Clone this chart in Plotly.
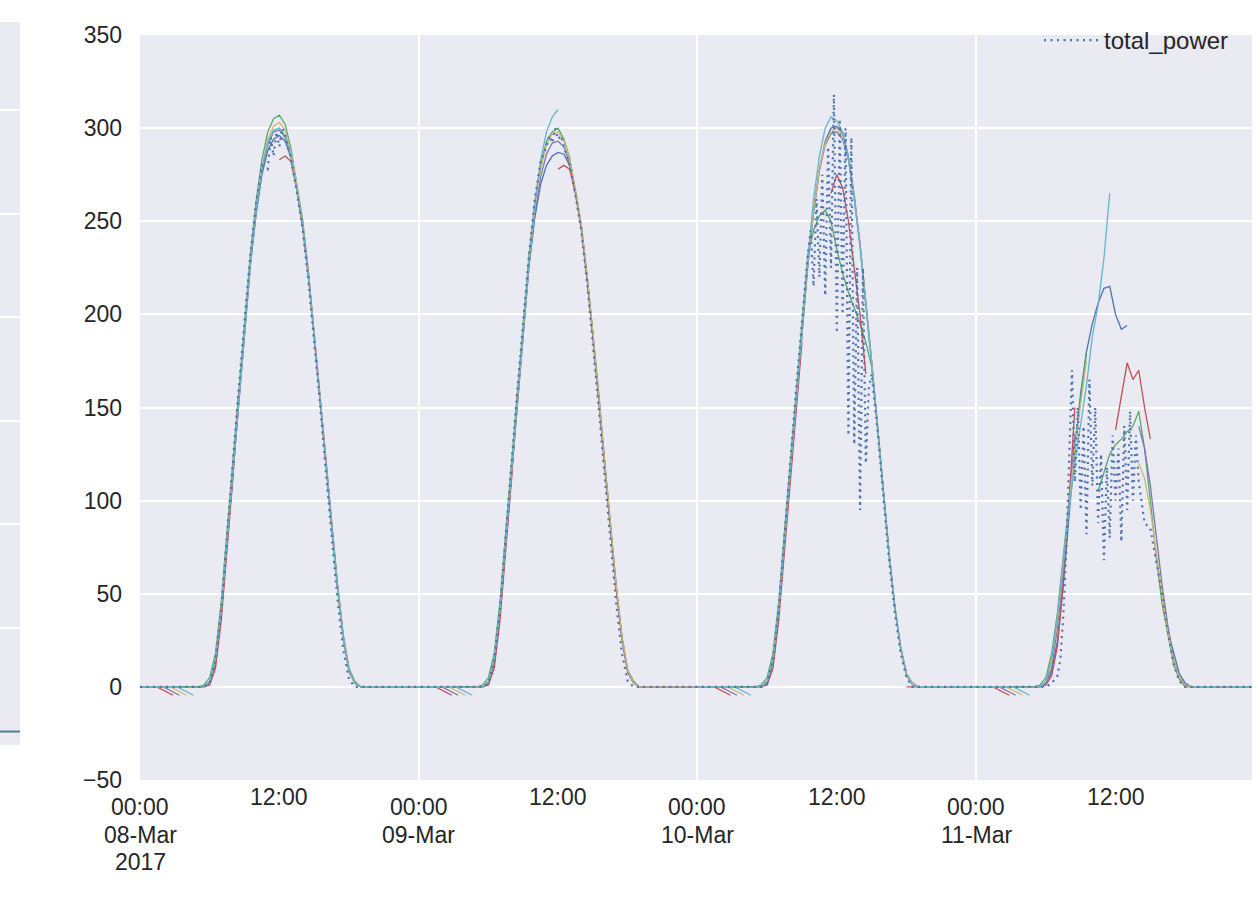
import pandas as pd
import plotly.graph_objects as go

# ---------------- data ----------------
DAYS = ["2017-03-08", "2017-03-09", "2017-03-10", "2017-03-11"]
X_START = "2017-03-08 00:00"
X_END = "2017-03-11 23:45"
DAY_TIME_LABEL = "00:00"
DAY_DATE_LABELS = ["08-Mar", "09-Mar", "10-Mar", "11-Mar"]
YEAR_LABEL = "2017"
NOON_LABEL = "12:00"
Y_TICKS = [-50, 0, 50, 100, 150, 200, 250, 300, 350]

# daylight sampling grid (hours of the day)
HOURS = [5.0, 5.5, 6.0, 6.5, 7.0, 7.5, 8.0, 8.5, 9.0, 9.5, 10.0, 10.5, 11.0, 11.5, 12.0,
         12.5, 13.0, 13.5, 14.0, 14.5, 15.0, 15.5, 16.0, 16.5, 17.0, 17.5, 18.0, 18.5, 19.0, 19.5]
N = None

blue_d1 = [0, 0, 2, 13, 40, 78, 116, 153, 190, 226, 254, 275, 288, 294, 296, 293, 284, 268, 248, 221, 189, 157, 121, 87, 54, 27, 9, 2, 0, 0]
blue_d2 = [0, 0, 2, 13, 40, 78, 116, 153, 190, 226, 252, 270, 280, 285, 287, 286, 280, 265, 246, 219, 188, 156, 120, 86, 53, 26, 8, 2, 0, 0]
blue_d3 = [0, 0, 2, 13, 40, 78, 116, 153, 190, 226, 255, 278, 293, 300, 301, 297, 285, 264, 238, 208, 175, 141, 106, 72, 43, 21, 7, 2, 0, 0]
blue_d4 = [0, 0, 2, 8, 25, 55, 92, 128, 158, 180, 195, 206, 214, 215, 200, 192, 194, N, N, N, N, N, N, 30, 18, 7, 2, 0, 0, 0]

green_d1 = [0, 1, 5, 18, 46, 84, 122, 159, 196, 232, 261, 283, 298, 305, 307, 302, 289, 271, 251, 223, 191, 159, 123, 89, 56, 28, 10, 3, 0, 0]
green_d2 = [0, 1, 5, 18, 46, 84, 122, 159, 196, 232, 260, 280, 293, 298, 300, 294, 284, 267, 248, 221, 190, 158, 122, 88, 55, 27, 9, 3, 0, 0]
green_d3 = [0, 1, 5, 18, 46, 84, 122, 159, 196, 232, 245, 253, 256, 250, 235, 222, 212, 204, 195, 185, 172, 140, 106, 72, 43, 21, 7, 2, 0, 0]
green_d4 = [0, 1, 5, 18, 40, 70, 100, 130, 155, 180, N, 105, 115, 125, 130, 133, 137, 140, 148, 128, 100, 70, 45, 28, 12, 4, 0, 0, 0, 0]

red_d1 = [0, 0, 1, 10, 36, 74, 112, 158, N, N, N, N, N, N, 283, 285, 282, 267, 247, 220, 188, 156, 120, 86, 53, 26, 8, 2, 0, 0]
red_d2 = [0, 0, 1, 10, 36, 74, 112, 158, N, N, N, N, N, N, 278, 280, 278, 265, 246, 219, 188, 156, 120, 86, 53, 26, 8, 2, 0, 0]
red_d3 = [0, 0, 1, 10, 36, 74, 112, 150, 185, N, N, N, N, 265, 275, 268, 250, 225, 200, 168, N, N, N, N, N, N, 0, 0, 0, 0]
red_d4 = [0, 0, 1, 6, 22, 55, 100, 150, N, N, N, N, N, N, 138, 155, 174, 165, 170, 150, 133, N, N, N, N, 5, 1, 0, 0, 0]

purple_d1 = [0, 0, 2, 14, 41, 79, 117, 154, 191, 227, 255, 277, 291, 298, 299, 295, 285, 268, 249, 222, 190, 158, 122, 88, 55, 27, 9, 2, 0, 0]
purple_d2 = [0, 0, 2, 14, 41, 79, 117, 154, 191, 227, 254, 274, 286, 292, 293, 290, 281, 266, 247, 220, 189, 157, 121, 87, 54, 26, 8, 2, 0, 0]
purple_d3 = [0, 0, 2, 14, 41, 79, 117, 154, 191, 227, 255, 277, 291, 297, 298, 294, 283, 262, 237, 207, 174, 140, 105, 71, 42, 21, 7, 2, 0, 0]
purple_d4 = [0, 0, 2, 10, 32, 62, 98, 135, N, N, N, N, N, N, N, N, N, N, 140, 128, 108, 80, 55, 33, 15, 5, 1, 0, 0, 0]

yellow_d1 = [0, 0, 3, 15, 42, 80, 118, 155, 192, 228, 257, 279, 294, 301, 303, 299, 287, 270, 250, 222, 190, 158, 122, 88, 55, 27, 9, 2, 0, 0]
yellow_d2 = [0, 0, 3, 15, 42, 80, 118, 155, 192, 228, 257, 278, 291, 297, 298, 293, 283, 267, 248, 221, 190, 158, 122, 88, 55, 27, 9, 2, 0, 0]
yellow_d3 = [0, 0, 3, 15, 42, 80, 118, 155, 192, 228, 256, 278, 292, 298, 300, 296, 284, 263, 237, 207, 174, 140, 105, 71, 42, 21, 7, 2, 0, 0]
yellow_d4 = [0, 0, 3, 14, 36, 66, 98, 128, 152, 175, N, N, N, N, N, N, N, N, 120, 112, 95, 72, 50, 30, 14, 5, 1, 0, 0, 0]

cyan_d1 = [0, 0, 3, 15, 42, 80, 118, 155, 192, 228, 256, 278, 292, 299, 300, 296, 285, 268, 249, 221, 189, 157, 121, 87, 54, 27, 9, 2, 0, 0]
cyan_d2 = [0, 0, 3, 15, 42, 80, 118, 155, 193, 230, 260, 283, 298, 306, 310, N, N, N, N, N, N, N, N, N, N, N, N, N, N, N]
cyan_d3 = [0, 0, 3, 15, 42, 80, 118, 155, 193, 230, 262, 285, 300, 306, 304, 298, 284, 262, 236, 206, 173, 139, 104, 71, 42, 20, 6, 1, 0, 0]
cyan_d4 = [0, 0, 3, 14, 38, 68, 96, 120, 142, 162, 188, 205, 230, 265, N, N, N, N, N, N, N, N, N, N, N, N, N, 0, 0, 0]

# small pre-dawn dips (start hour of each dip), depth and length
DIP_START = {"red": 1.45, "purple": 2.0, "yellow": 2.6, "cyan": 3.2}
DIP_DEPTH = -4.5
DIP_LEN = 1.4

# total_power (dotted) with its own sampling hours per day
tp_h1 = [5.0, 5.5, 6.0, 6.5, 7.0, 7.5, 8.0, 8.5, 9.0, 9.5, 10.0, 10.5, 11.0, 11.25, 11.5, 11.75, 12.0, 12.25,
         12.5, 13.0, 13.5, 14.0, 14.5, 15.0, 15.5, 16.0, 16.5, 17.0, 17.5, 18.0, 18.5, 19.0]
tp_v1 = [0, 0, 2, 14, 42, 82, 122, 160, 196, 232, 260, 280, 278, 295, 285, 298, 290, 300,
         296, 284, 266, 246, 218, 186, 152, 116, 80, 47, 20, 4, 0, 0]
tp_h2 = tp_h1
tp_v2 = [0, 0, 2, 14, 42, 82, 122, 160, 196, 232, 262, 282, 290, 296, 292, 300, 294, 296,
         290, 280, 264, 245, 217, 185, 150, 114, 78, 45, 18, 3, 0, 0]
tp_h3 = [5.0, 5.5, 6.0, 6.5, 7.0, 7.5, 8.0, 8.5, 9.0, 9.5, 9.75, 10.0, 10.25, 10.5, 10.75, 11.0, 11.25,
         11.5, 11.75, 12.0, 12.25, 12.5, 12.75, 13.0, 13.25, 13.5, 13.75, 14.0, 14.25, 14.5, 14.75,
         15.0, 15.5, 16.0, 16.5, 17.0, 17.5, 18.0, 18.5, 19.0]
tp_v3 = [0, 0, 2, 14, 42, 82, 122, 160, 196, 232, 245, 215, 262, 220, 275, 210, 290,
         225, 318, 190, 305, 200, 300, 135, 295, 130, 225, 95, 225, 120, 160,
         168, 138, 102, 68, 40, 18, 5, 0, 0]
tp_h4 = [5.0, 5.5, 6.0, 6.5, 7.0, 7.25, 7.5, 7.75, 8.0, 8.25, 8.5, 8.75, 9.0, 9.25, 9.5, 9.75, 10.0,
         10.25, 10.5, 10.75, 11.0, 11.25, 11.5, 11.75, 12.0, 12.25, 12.5, 12.75, 13.0, 13.25, 13.5,
         13.75, 14.0, 14.25, 14.5, 15.0, 15.5, 16.0, 16.5, 17.0, 17.5, 18.0, 18.5, 19.0]
tp_v4 = [0, 0, 0, 2, 6, 15, 38, 72, 118, 170, 110, 150, 95, 140, 82, 165, 108,
         150, 88, 125, 68, 118, 80, 135, 100, 128, 78, 140, 95, 148, 100,
         135, 110, 100, 88, 85, 68, 50, 30, 12, 3, 0, 0, 0]

# cut-off neighbouring panel on the left
LEFT_GRID = [0, 1, 2, 3, 4, 5]
LEFT_RANGE = [-1.13, 5.85]
left_line_y = [-1, -1]

COLORS = {"blue": "#4C72B0", "green": "#55A868", "red": "#C44E52",
          "purple": "#8172B2", "yellow": "#CCB974", "cyan": "#64B5CD"}
SERIES = [
    ("blue", [blue_d1, blue_d2, blue_d3, blue_d4]),
    ("green", [green_d1, green_d2, green_d3, green_d4]),
    ("red", [red_d1, red_d2, red_d3, red_d4]),
    ("purple", [purple_d1, purple_d2, purple_d3, purple_d4]),
    ("yellow", [yellow_d1, yellow_d2, yellow_d3, yellow_d4]),
    ("cyan", [cyan_d1, cyan_d2, cyan_d3, cyan_d4]),
]
TP_DAYS = [(tp_h1, tp_v1), (tp_h2, tp_v2), (tp_h3, tp_v3), (tp_h4, tp_v4)]

FONT = "Liberation Sans, Arial, sans-serif"
FS = 23
TXT = "#262626"


def build(day_lists, dip):
    xs, ys = [], []
    for d, vals in enumerate(day_lists):
        base = pd.Timestamp(DAYS[d])
        pts = [(0.0, 0.0)]
        if dip is not None:
            pts += [(dip, 0.0), (dip + DIP_LEN, DIP_DEPTH), (dip + DIP_LEN + 0.05, None)]
        pts += list(zip(HOURS, vals))
        pts.append((23.75, 0.0))
        for h, v in pts:
            xs.append(base + pd.Timedelta(hours=h))
            ys.append(v)
    return xs, ys


fig = go.Figure()

for name, days in SERIES:
    xs, ys = build(days, DIP_START.get(name))
    fig.add_trace(go.Scatter(x=xs, y=ys, mode="lines", name=name, showlegend=False,
                             line=dict(color=COLORS[name], width=1.3), connectgaps=False,
                             xaxis="x", yaxis="y"))

tx, ty = [], []
for d, (hs, vs) in enumerate(TP_DAYS):
    base = pd.Timestamp(DAYS[d])
    pts = [(0.0, 0.0)] + list(zip(hs, vs)) + [(23.75, 0.0)]
    for h, v in pts:
        tx.append(base + pd.Timedelta(hours=h))
        ty.append(v)
fig.add_trace(go.Scatter(x=tx, y=ty, mode="lines", name="total_power",
                         line=dict(color="#4C72B0", width=2.2, dash="2px,4.5px"),
                         xaxis="x", yaxis="y"))

# left cut-off panel
fig.add_trace(go.Scatter(x=[0, 1], y=left_line_y, mode="lines", showlegend=False,
                         line=dict(color="#4F8290", width=2), xaxis="x2", yaxis="y2"))

W, H = 1257, 899
ML, MR, MT, MB = 0, 5, 22, 119
PW = W - ML - MR
PH = H - MT - MB
BOTTOM = H - MB  # pixel row of paper y = 0


def py(pix):
    return (BOTTOM - pix) / PH


annotations = []
tfont = dict(family=FONT, size=FS, color=TXT)
for d, day in enumerate(DAYS):
    t0 = pd.Timestamp(day)
    lines = [(DAY_TIME_LABEL, 807), (DAY_DATE_LABELS[d], 835)]
    if d == 0:
        lines.append((YEAR_LABEL, 862))
    for txt, ypix in lines:
        annotations.append(dict(x=t0, y=py(ypix), xref="x", yref="paper", text=txt,
                                showarrow=False, yanchor="middle", xanchor="center", font=tfont))
    annotations.append(dict(x=t0 + pd.Timedelta(hours=12), y=py(797), xref="x", yref="paper",
                            text=NOON_LABEL, showarrow=False, yanchor="middle",
                            xanchor="center", font=tfont))

fig.update_layout(
    width=W, height=H,
    margin=dict(l=ML, r=MR, t=MT, b=MB),
    paper_bgcolor="white", plot_bgcolor="#EAEAF2",
    font=dict(family=FONT, size=FS, color=TXT),
    xaxis=dict(domain=[140 / PW, 1.0], type="date", range=[X_START, X_END],
               tickvals=[pd.Timestamp(d) for d in DAYS], showticklabels=False,
               showgrid=True, gridcolor="white", gridwidth=1.6, zeroline=False,
               showline=False, ticks=""),
    yaxis=dict(domain=[0, (780 - 35) / PH], range=[-50, 350], tickvals=Y_TICKS,
               showgrid=True, gridcolor="white", gridwidth=1.6, zeroline=False,
               showline=False, ticks="", ticklabelstandoff=17, tickfont=tfont),
    xaxis2=dict(domain=[0, 20 / PW], range=[0, 1], showgrid=False, zeroline=False,
                showticklabels=False, ticks="", anchor="y2"),
    yaxis2=dict(domain=[(780 - 745) / PH, 1.0], range=LEFT_RANGE, tickvals=LEFT_GRID,
                showgrid=True, gridcolor="white", gridwidth=1.6, zeroline=False,
                showticklabels=False, ticks="", anchor="x2"),
    legend=dict(x=1234 / PW, y=py(18), xanchor="right", yanchor="top", itemwidth=55,
                bgcolor="rgba(0,0,0,0)", font=dict(family=FONT, size=24, color=TXT)),
    annotations=annotations,
)

fig.write_html("out.html", config={"displayModeBar": False},
               post_script="document.body.style.margin='0';")
